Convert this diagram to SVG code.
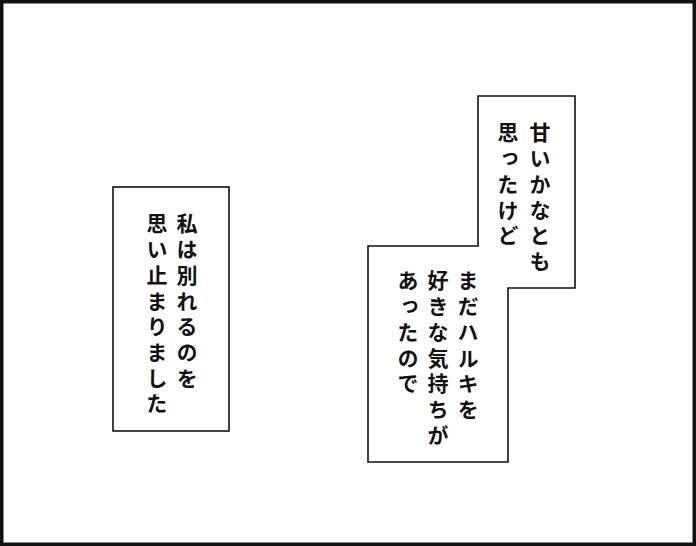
<svg xmlns="http://www.w3.org/2000/svg" width="696" height="546" viewBox="0 0 696 546">
<style>
.box{fill:#fff;stroke:#111;stroke-width:1.6}
.t{font-family:"Noto Sans CJK JP","Noto Sans CJK SC",sans-serif;font-weight:bold;font-size:21px;letter-spacing:4.7px;writing-mode:vertical-rl;fill:#111}
</style>
<rect x="0" y="0" width="696" height="546" fill="#fff"/>
<rect x="1.75" y="1.75" width="692.5" height="542.5" fill="none" stroke="#111" stroke-width="3.5"/>
<g id="caption-left">
<rect class="box" x="113" y="187" width="116" height="244"/>
<text class="t" x="187" y="213">私は別れるのを</text>
<text class="t" x="157" y="213">思い止まりました</text>
</g>
<g id="caption-right">
<polygon class="box" points="478,96 575,96 575,288 508,288 508,462 368,462 368,246 478,246"/>
<text class="t" x="540" y="122">甘いかなとも</text>
<text class="t" x="508" y="122">思ったけど</text>
<text class="t" x="468" y="270">まだハルキを</text>
<text class="t" x="438" y="270">好きな気持ちが</text>
<text class="t" x="408" y="270">あったので</text>
</g>
<g id="connectors"/>
</svg>
